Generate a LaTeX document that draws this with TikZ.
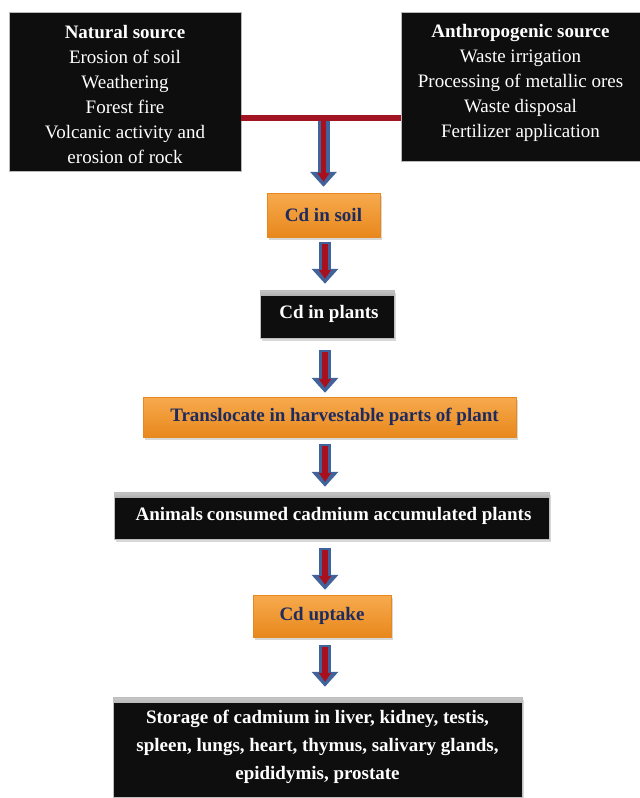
\documentclass[tikz,border=0pt]{standalone}
\usepackage{fontspec}
\setmainfont{Liberation Serif}
\usetikzlibrary{arrows.meta,shadows,calc}
\definecolor{boxblack}{HTML}{0E0E0E}
\definecolor{orangetop}{HTML}{F7AA4E}
\definecolor{orangebot}{HTML}{E8881C}
\definecolor{navytext}{HTML}{1E2B5E}
\definecolor{arrowblue}{HTML}{41639C}
\definecolor{arrowred}{HTML}{A8101E}
\definecolor{linered}{HTML}{A31423}
\tikzset{
  topbox/.style={fill=boxblack, draw=gray!55, line width=0.6pt, inner sep=0pt},
  toptext/.style={text=white, align=center, inner sep=0pt, font=\fontsize{19}{25}\selectfont},
  boxshadow/.style={drop shadow={shadow xshift=1.5pt, shadow yshift=-2.5pt, opacity=0.3, fill=gray}},
  darkbox/.style={fill=boxblack, draw=gray!50, line width=0.5pt, text=white, align=center, inner sep=0pt,
    font=\fontsize{19}{28}\selectfont\bfseries, boxshadow,
    path picture={\shade[top color=gray!45, bottom color=boxblack] (path picture bounding box.north west) rectangle ([yshift=-5pt]path picture bounding box.north east);}},
  orangebox/.style={top color=orangetop, bottom color=orangebot, draw=orangebot, line width=0.4pt, text=navytext, align=center, inner sep=0pt,
    font=\fontsize{19}{25}\selectfont\bfseries, boxshadow},
  fatouter/.style={line width=12pt, draw=arrowblue, -{Triangle[width=26pt,length=15pt]}},
  fatinner/.style={line width=5.5pt, draw=arrowred, -{Triangle[width=12pt,length=9pt]}}
}
\newcommand{\fatarrow}[4]{%
  \draw[fatouter, shorten <=#3, shorten >=#4] (#1) -- (#2);
  \draw[fatinner, shorten <=#3+2pt, shorten >=#4+5pt] (#1) -- (#2);}
\begin{document}
\begin{tikzpicture}[x=1pt,y=-1pt]
\useasboundingbox[fill=white] (0,0) rectangle (640,798);
\coordinate (ax) at (325,0);
\coordinate (j) at (323.5,117.5);

% top boxes
\node[topbox, minimum width=232pt, minimum height=159pt] (natural) at (125,91.5) {};
\node[toptext] (naturaltext) at (125,94.5)
  {\textbf{Natural source}\\Erosion of soil\\Weathering\\Forest fire\\Volcanic activity and\\erosion of rock};
\node[topbox, minimum width=240pt, minimum height=149pt] (anthro) at (521,86.5) {};
\node[toptext] (anthrotext) at (520.5,83)
  {\textbf{Anthropogenic source}\\Waste irrigation\\Processing of metallic ores\\Waste disposal\\Fertilizer application};

% flow boxes
\node[orangebox, minimum width=113pt, minimum height=44pt] (soil) at (323.5,215) {Cd in soil};
\node[darkbox, minimum width=134pt, minimum height=48pt] (plants) at (327,314) {\hspace*{4pt}Cd in plants};
\node[orangebox, minimum width=373pt, minimum height=40pt] (transl) at (329.5,417) {\hspace*{10pt}Translocate in harvestable parts of plant};
\node[darkbox, minimum width=435pt, minimum height=47pt] (animals) at (331.5,515.5) {\hspace*{4pt}Animals\hspace{-1pt} consumed cadmium accumulated plants};
\node[orangebox, minimum width=138pt, minimum height=42pt] (uptake) at (322,616) {Cd uptake};
\node[darkbox, minimum width=409pt, minimum height=100pt] (storage) at (317.5,747)
  {Storage of cadmium in liver, kidney, testis,\\spleen, lungs, heart, thymus, salivary glands,\\epididymis, prostate};

% arrows
\fatarrow{j}{soil.north -| j}{0pt}{6pt}
\draw[linered, line width=6pt] (j -| natural.east) -- (j -| anthro.west);
\fatarrow{soil.south -| ax}{plants.north -| ax}{5pt}{6pt}
\fatarrow{plants.south -| ax}{transl.north -| ax}{12pt}{4pt}
\fatarrow{transl.south -| ax}{animals.north -| ax}{7pt}{5pt}
\fatarrow{animals.south -| ax}{uptake.north -| ax}{9pt}{5pt}
\fatarrow{uptake.south -| ax}{storage.north -| ax}{8pt}{10pt}
\end{tikzpicture}
\end{document}
